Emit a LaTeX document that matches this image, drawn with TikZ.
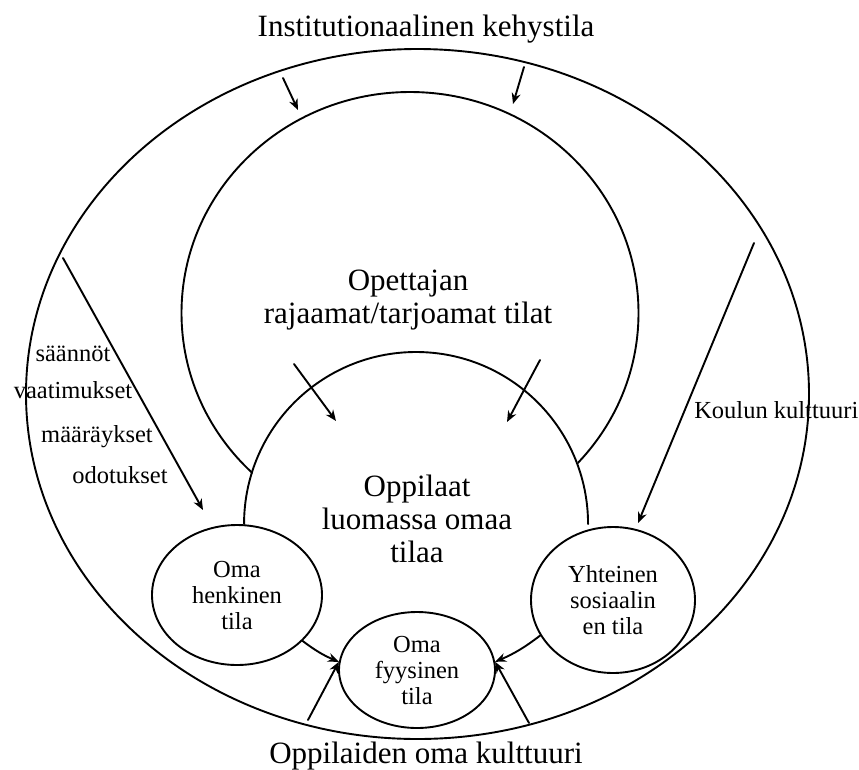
\documentclass[tikz,border=0pt]{standalone}
\usepackage{fontspec}
\setmainfont{Liberation Serif}
\usetikzlibrary{shapes.geometric,arrows.meta}
\tikzset{
  zone/.style={ellipse, draw, fill=white, inner sep=0pt, align=center, font=\fontsize{24.5}{26}\selectfont},
  bigtext/.style={align=center, font=\fontsize{31}{33}\selectfont},
  smalltext/.style={font=\fontsize{24.5}{26}\selectfont}
}
\begin{document}
\begin{tikzpicture}[x=1pt, y=-1pt, line width=1.9pt, line join=round, line cap=round, >={Stealth[length=11pt,width=9pt]}]
  \useasboundingbox (0,0) rectangle (859,769);
  % tilat
  \node[zone, minimum width=783pt, minimum height=690pt] (kehys) at (417.5,394) {};
  \node[zone, minimum width=457pt, minimum height=442pt] (opettaja) at (410,313) {};
  \node[zone, draw=none, minimum width=344pt, minimum height=344pt] (oppilaat) at (417,524) {};
  \draw (oppilaat.180) arc[start angle=180, end angle=0, radius=172pt];
  \node[zone, minimum width=170pt, minimum height=140pt] (henk) at (237,595) {Oma\\henkinen\\tila};
  \node[zone, minimum width=156pt, minimum height=116pt] (fyys) at (417,670) {Oma\\fyysinen\\tila};
  \node[zone, minimum width=164pt, minimum height=146pt] (yht) at (613,600) {Yhteinen\\sosiaalin\\en tila};
  % tekstit
  \node[bigtext, anchor=base] (otsikko) at (426,36) {Institutionaalinen kehystila};
  \node[bigtext, anchor=base] (alaotsikko) at (426,763) {Oppilaiden oma kulttuuri};
  \node[bigtext] (opettajateksti) at (408,300) {Opettajan\\rajaamat/tarjoamat tilat};
  \node[bigtext] (oppilaatteksti) at (417,519) {Oppilaat\\luomassa omaa\\tilaa};
  \node[smalltext, anchor=base] (saannot) at (73,361) {säännöt};
  \node[smalltext, anchor=base] (vaatimukset) at (73,398) {vaatimukset};
  \node[smalltext, anchor=base] (maaraykset) at (97,442) {määräykset};
  \node[smalltext, anchor=base] (odotukset) at (120,483) {odotukset};
  \node[smalltext, anchor=base west] (koulu) at (690,418) {Koulun kulttuuri};
  % nuolet
  \coordinate (a1) at (283,78);  \coordinate (a2) at (298,110);
  \coordinate (b1) at (524,67);  \coordinate (b2) at (513,104);
  \coordinate (c1) at (63,258);  \coordinate (c2) at (203,510);
  \coordinate (d1) at (754,243); \coordinate (d2) at (638,523);
  \coordinate (e1) at (294,364); \coordinate (e2) at (336,421);
  \coordinate (f1) at (540,360); \coordinate (f2) at (507,422);
  \coordinate (i1) at (308,720); \coordinate (j1) at (529,723);
  \draw[->] (a1) -- (a2);
  \draw[->] (b1) -- (b2);
  \draw[->] (c1) -- (c2);
  \draw[->] (d1) -- (d2);
  \draw[->] (e1) -- (e2);
  \draw[->] (f1) -- (f2);
  \draw[->] (henk.-35) to[bend right=7] (fyys.174);
  \draw[->] (yht.206) to[bend left=7] (fyys.6);
  \draw[->] (i1) -- (fyys.174);
  \draw[->] (j1) -- (fyys.6);
\end{tikzpicture}
\end{document}
